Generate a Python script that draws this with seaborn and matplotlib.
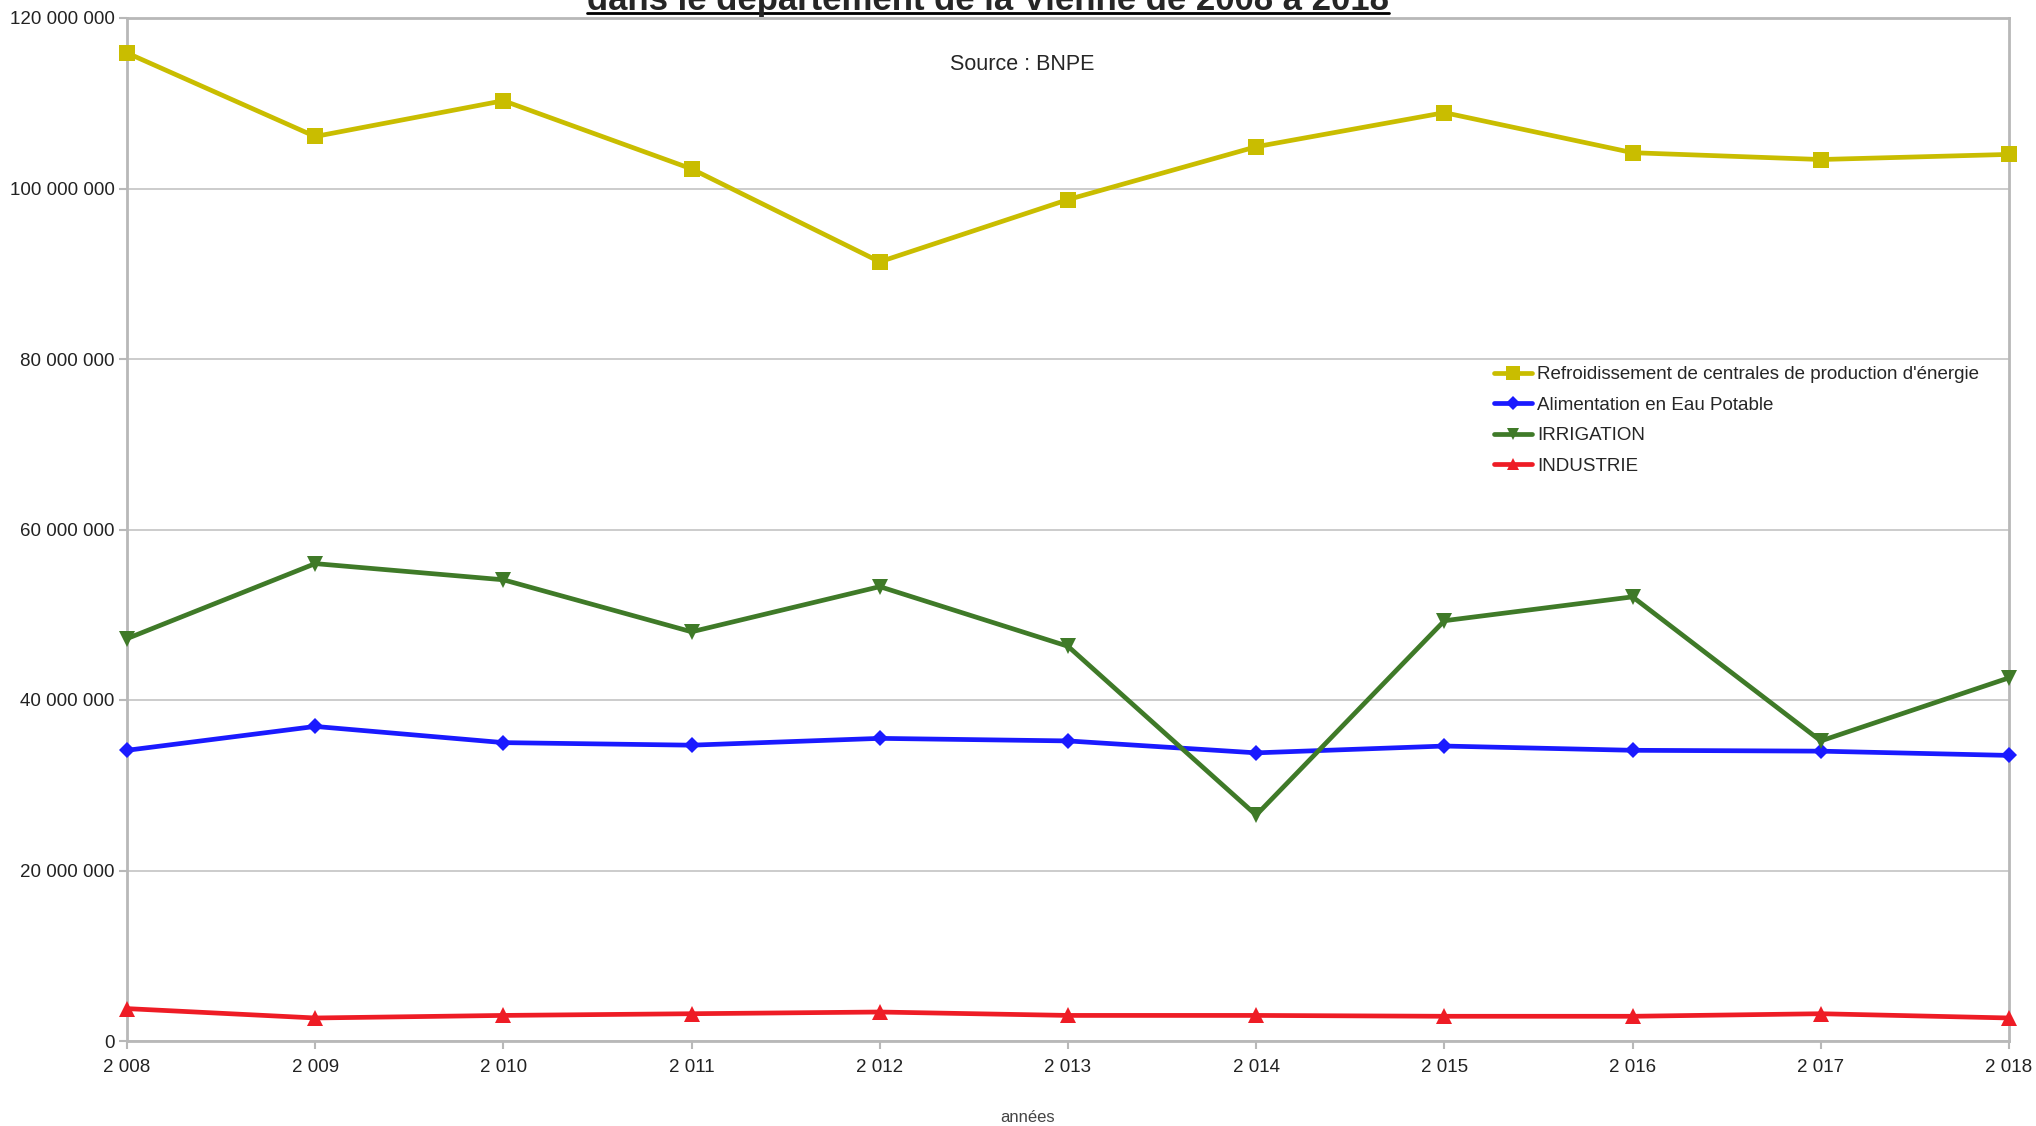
import numpy as np
import pandas as pd
import seaborn as sns
import matplotlib.pyplot as plt
from matplotlib.ticker import FuncFormatter, MultipleLocator
from matplotlib.lines import Line2D

# volumes préleves (m3) par usage
annees = [2008, 2009, 2010, 2011, 2012, 2013, 2014, 2015, 2016, 2017, 2018]
refroidissement = [115.9e6, 106.1e6, 110.3e6, 102.3e6, 91.4e6, 98.7e6, 104.9e6, 108.9e6, 104.2e6, 103.4e6, 104.0e6]
eau_potable = [34.1e6, 36.9e6, 35.0e6, 34.7e6, 35.5e6, 35.2e6, 33.8e6, 34.6e6, 34.1e6, 34.0e6, 33.5e6]
irrigation = [47.2e6, 56.0e6, 54.1e6, 48.0e6, 53.3e6, 46.3e6, 26.5e6, 49.3e6, 52.1e6, 35.2e6, 42.6e6]
industrie = [3.8e6, 2.7e6, 3.0e6, 3.2e6, 3.4e6, 3.0e6, 3.0e6, 2.9e6, 2.9e6, 3.2e6, 2.7e6]

usages = ["Refroidissement de centrales de production d'énergie",
          "Alimentation en Eau Potable", "IRRIGATION", "INDUSTRIE"]
couleurs = ['#c9bd00', '#1a1aff', '#3f7a28', '#ee1c25']
marqueurs = ['s', 'D', 'v', '^']
tailles = [11.5, 8.5, 11, 11]

df = pd.DataFrame({
    'annee': annees * 4,
    'volume': refroidissement + eau_potable + irrigation + industrie,
    'usage': [u for u in usages for _ in annees],
})

sns.set_style('white')
plt.rcParams['font.family'] = ['Liberation Sans', 'DejaVu Sans']

fig = plt.figure(figsize=(20.36, 11.26), dpi=100)
ax = fig.add_axes([127 / 2036, 1 - 1041 / 1126, (2009 - 127) / 2036, (1041 - 18) / 1126])

sns.lineplot(data=df, x='annee', y='volume', hue='usage', style='usage',
             hue_order=usages, style_order=usages,
             palette=dict(zip(usages, couleurs)), markers=dict(zip(usages, marqueurs)),
             dashes=False, linewidth=3.4, markersize=10, markeredgewidth=0, ax=ax)

for ligne, t in zip(ax.lines[:4], tailles):
    ligne.set_markersize(t)
    ligne.set_clip_on(False)
    ligne.set_zorder(5)

ax.set_xlim(2008, 2018)
ax.set_ylim(0, 120e6)
ax.xaxis.set_major_locator(MultipleLocator(1))
ax.yaxis.set_major_locator(MultipleLocator(20e6))
ax.xaxis.set_major_formatter(FuncFormatter(lambda v, p: f'{int(v):,}'.replace(',', ' ')))
ax.yaxis.set_major_formatter(FuncFormatter(lambda v, p: f'{int(v):,}'.replace(',', ' ')))
ax.grid(axis='y', color='#c8c8c8', linewidth=1.3)
ax.grid(axis='x', visible=False)
for s in ax.spines.values():
    s.set_color('#b8b8b8')
    s.set_linewidth(2)
ax.tick_params(axis='both', which='major', length=6, width=1.5, color='#b8b8b8',
               labelsize=13.5, labelcolor='#222222', direction='out', bottom=True, left=True)
ax.tick_params(axis='y', pad=3)
ax.tick_params(axis='x', pad=7)
ax.set_xlabel('')
ax.set_ylabel('')

leg = ax.legend(loc='upper left', bbox_to_anchor=(1494 / 2036, 1 - 366 / 1126),
                bbox_transform=fig.transFigure, frameon=False, fontsize=13.5,
                handlelength=2.0, handletextpad=0.3, labelspacing=0.72, borderpad=0,
                borderaxespad=0)
for h, t in zip(leg.legend_handles, tailles):
    h.set_markersize(t * 0.85)

titre = fig.text(988 / 2036, 1 - 10 / 1126, 'dans le département de la Vienne de 2008 à 2018',
                 ha='center', va='baseline', fontsize=25, fontweight='bold')
fig.text(1022 / 2036, 1 - 65 / 1126, 'Source : BNPE', ha='center', va='center', fontsize=15.5)
fig.text(1028 / 2036, 1 - 1117 / 1126, 'années', ha='center', va='center', fontsize=12,
         color='#444444')

# soulignement du titre
r = fig.canvas.get_renderer()
bb = titre.get_window_extent(renderer=r)
y_line = 1 - 13 / 1126
fig.add_artist(Line2D([bb.x0 / fig.bbox.width, bb.x1 / fig.bbox.width], [y_line, y_line],
                      transform=fig.transFigure, color='black', linewidth=2))

fig.savefig('out.png', dpi=100)
